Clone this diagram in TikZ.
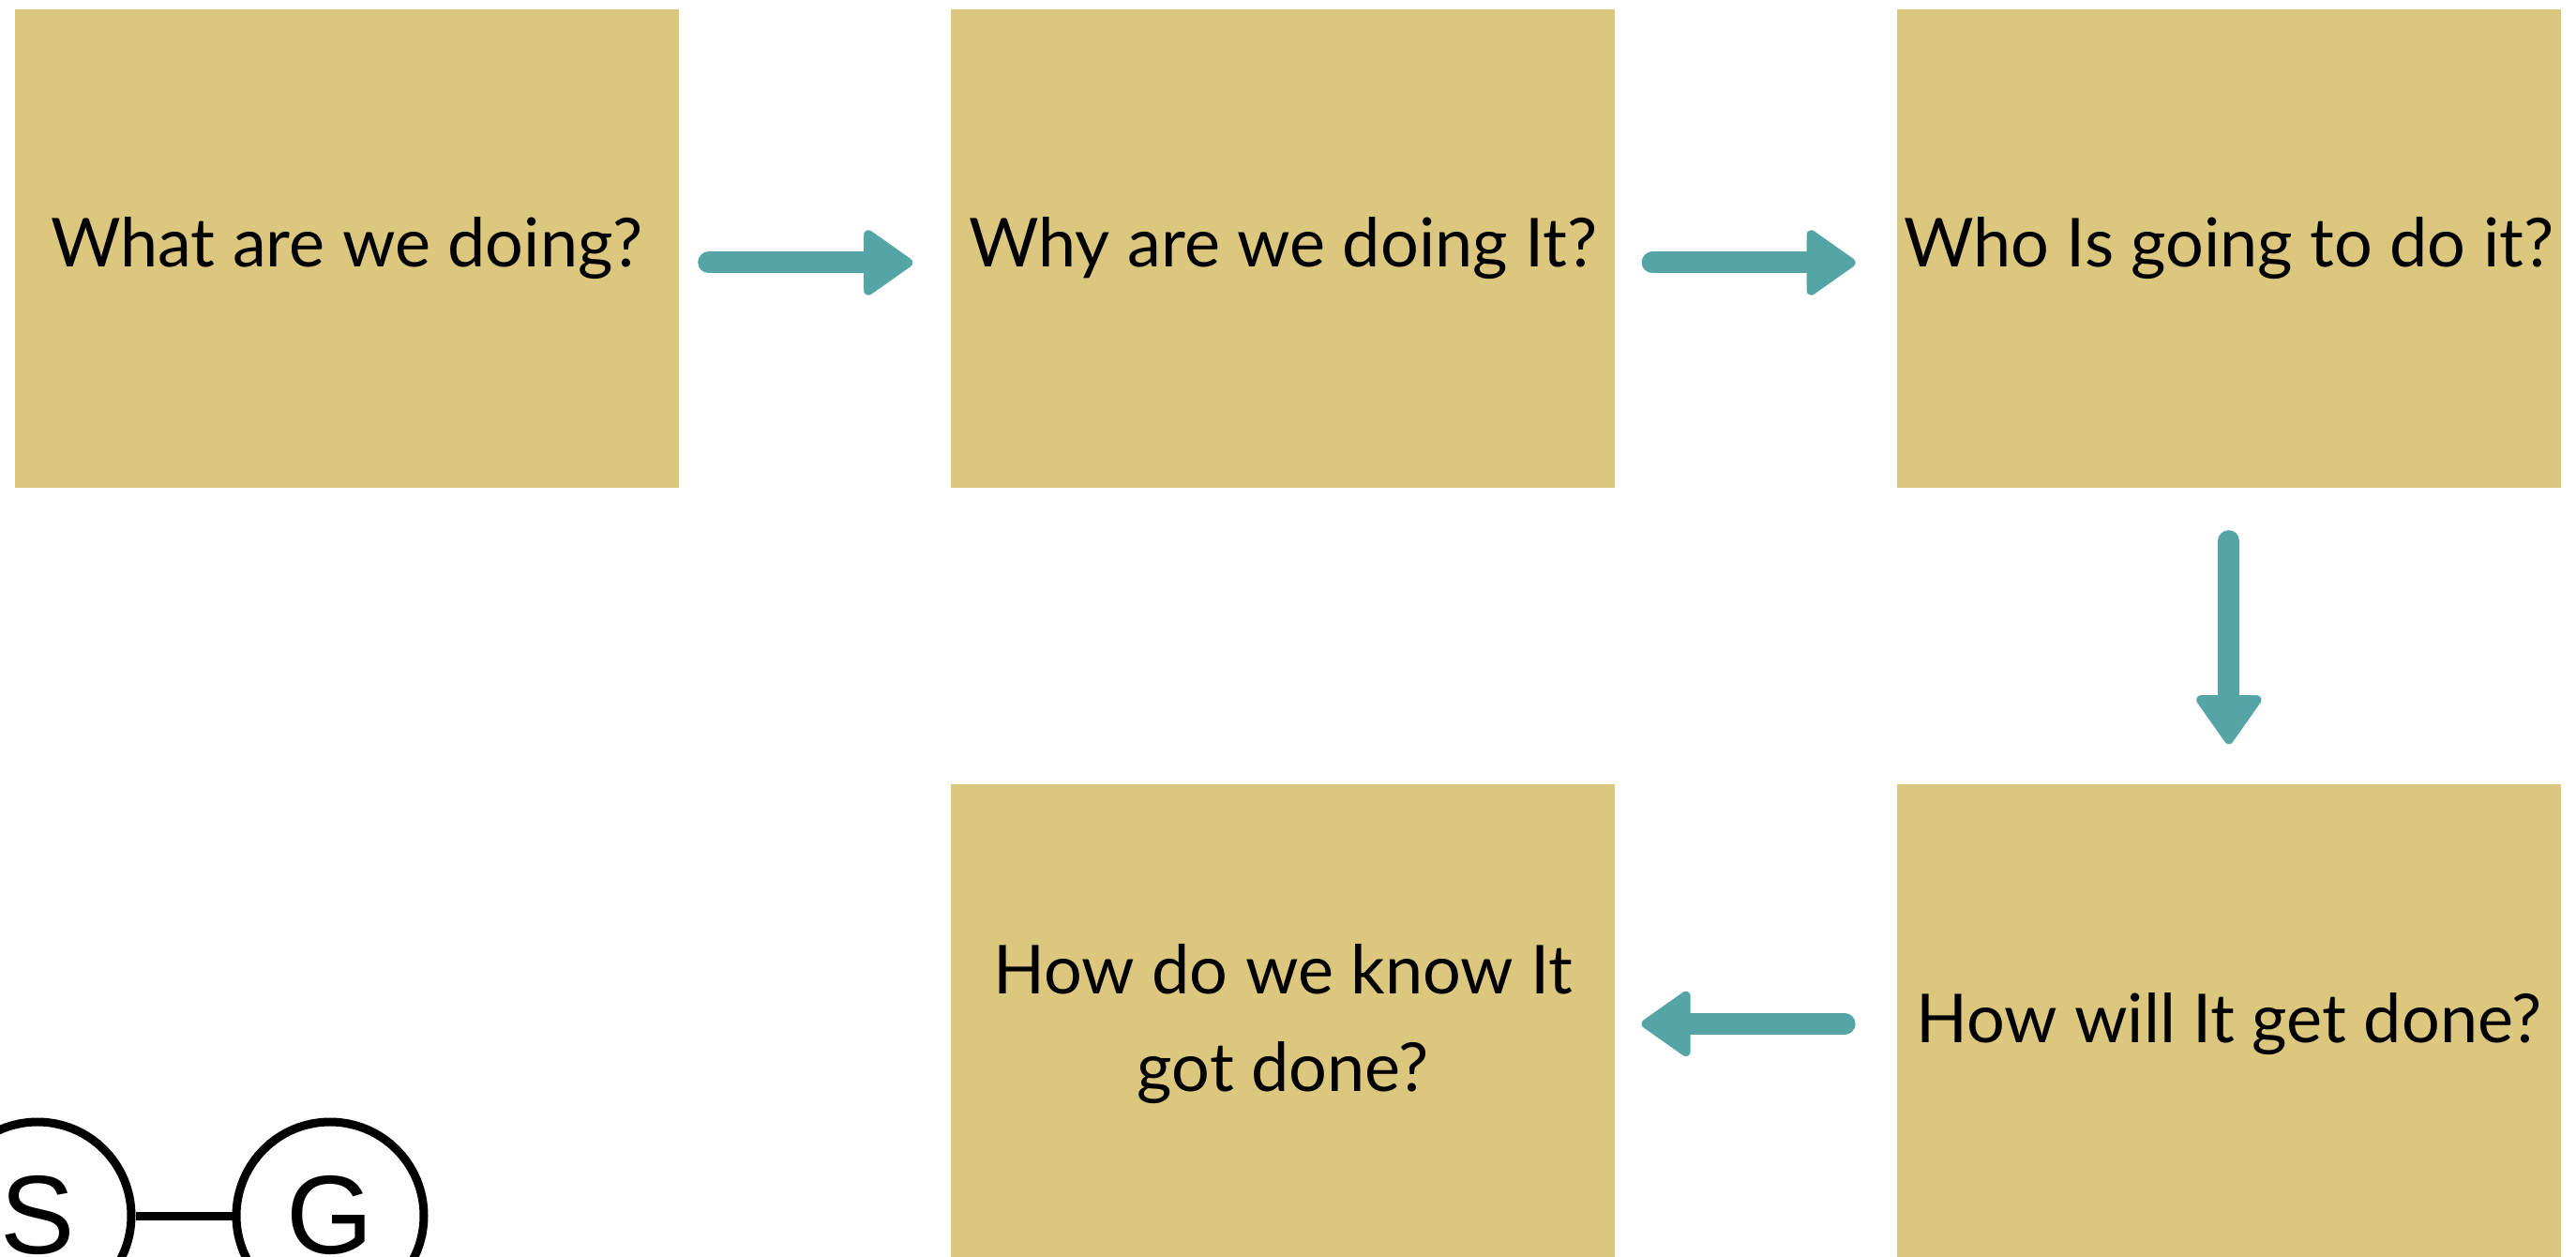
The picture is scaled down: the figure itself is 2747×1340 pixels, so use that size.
\documentclass[tikz,border=0pt]{standalone}
\usepackage{fontspec}
\usepackage{tikz}
\usetikzlibrary{arrows.meta,positioning}
\newfontfamily\boxfont{Lato}
\newfontfamily\letterfont{Liberation Sans}
\definecolor{boxtan}{HTML}{DCC77E}
\definecolor{arrowteal}{HTML}{55A5A6}

\begin{document}
\begin{tikzpicture}[x=1pt,y=-1pt,
	qbox/.style={fill=boxtan, minimum width=708pt, minimum height=510pt, inner sep=0pt, align=center, font=\boxfont\fontsize{72}{104}\selectfont},
	flow/.style={arrowteal, line width=23pt, line cap=round, -{Triangle[length=56pt,width=76pt,line width=10pt,round]}},
	letter/.style={circle, draw, line width=9pt, minimum size=200pt, inner sep=0pt, font=\letterfont\fontsize{119}{119}\selectfont}]
	\useasboundingbox (0,0) rectangle (2747,1340);
	\clip (0,0) rectangle (2747,1340);
	\node[qbox] (what) at (370,265) {What are we doing?};
	\node[qbox, right=290pt of what] (why) {Why are we doing It?};
	\node[qbox, right=300pt of why] (who) {Who Is going to do it?};
	\node[qbox, below=316pt of who] (how) {How will It get done?};
	\node[qbox, left=300pt of how] (know) {How do we know It\\got done?};
	\draw[flow, shorten <=31.5pt, shorten >=41pt] ([yshift=-15pt]what.east) -- ([yshift=-15pt]why.west);
	\draw[flow, shorten <=39.5pt, shorten >=44pt] ([yshift=-15pt]why.east) -- ([yshift=-15pt]who.west);
	\draw[flow, shorten <=56.5pt, shorten >=43pt] (who.south) -- (how.north);
	\draw[flow, shorten <=55.5pt, shorten >=28pt] (how.west) -- (know.east);
	\node[letter] (s) at (40,1296) {S};
	\node[letter] (g) at (352,1296) {G};
	\draw[line width=9pt] (s) -- (g);
\end{tikzpicture}
\end{document}
